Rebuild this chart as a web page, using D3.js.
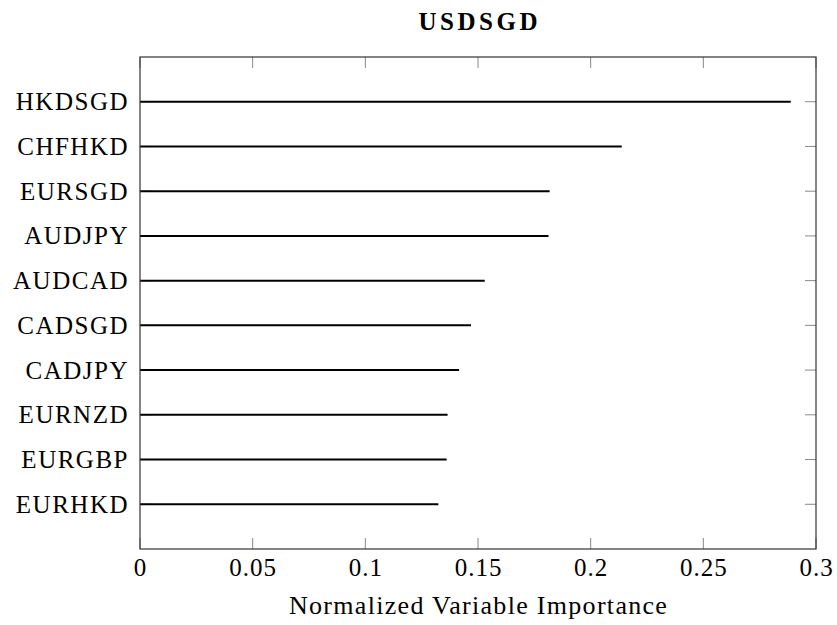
<!DOCTYPE html>
<html>
<head>
<meta charset="utf-8">
<script src="https://cdn.jsdelivr.net/npm/d3@7"></script>
<style>
  html, body { margin: 0; padding: 0; background: #fff; }
  svg text { font-family: "Liberation Serif", "DejaVu Serif", serif; fill: #000; }
</style>
</head>
<body>
<svg id="chart" width="837" height="625"></svg>
<script>
// Variable importance for the USDSGD model, top ten predictors
const categories = ["HKDSGD", "CHFHKD", "EURSGD", "AUDJPY", "AUDCAD",
                    "CADSGD", "CADJPY", "EURNZD", "EURGBP", "EURHKD"];
const importance = [0.2888, 0.2138, 0.1818, 0.1813, 0.1530,
                    0.1469, 0.1416, 0.1365, 0.1361, 0.1324];
const xTicks = [0, 0.05, 0.1, 0.15, 0.2, 0.25, 0.3];
const xTickLabels = ["0", "0.05", "0.1", "0.15", "0.2", "0.25", "0.3"];
const title = "USDSGD";
const xLabel = "Normalized Variable Importance";

const svg = d3.select("#chart");
const frame = { left: 140, right: 816, top: 57, bottom: 549 };

const x = d3.scaleLinear().domain([0, 0.3]).range([frame.left, frame.right]);
const y = d3.scalePoint().domain(categories).range([frame.top, frame.bottom]).padding(1);

const tickLen = 11;
const tickColor = "#888";

// Tick marks pointing inward on all four sides
const g = svg.append("g");
g.selectAll("line.xb").data(xTicks).join("line")
  .attr("x1", d => x(d)).attr("x2", d => x(d))
  .attr("y1", frame.bottom).attr("y2", frame.bottom - tickLen)
  .attr("stroke", tickColor).attr("stroke-width", 1);
g.selectAll("line.xt").data(xTicks).join("line")
  .attr("x1", d => x(d)).attr("x2", d => x(d))
  .attr("y1", frame.top).attr("y2", frame.top + tickLen)
  .attr("stroke", tickColor).attr("stroke-width", 1);
g.selectAll("line.yl").data(categories).join("line")
  .attr("x1", frame.left).attr("x2", frame.left + tickLen)
  .attr("y1", d => y(d)).attr("y2", d => y(d))
  .attr("stroke", tickColor).attr("stroke-width", 1);
g.selectAll("line.yr").data(categories).join("line")
  .attr("x1", frame.right).attr("x2", frame.right - tickLen)
  .attr("y1", d => y(d)).attr("y2", d => y(d))
  .attr("stroke", tickColor).attr("stroke-width", 1);

// Importance bars drawn as horizontal lines from zero
svg.append("g").selectAll("line").data(categories).join("line")
  .attr("x1", x(0))
  .attr("x2", (d, i) => x(importance[i]))
  .attr("y1", d => y(d)).attr("y2", d => y(d))
  .attr("stroke", "#000").attr("stroke-width", 2);

// Plot frame
svg.append("rect")
  .attr("x", frame.left).attr("y", frame.top)
  .attr("width", frame.right - frame.left).attr("height", frame.bottom - frame.top)
  .attr("fill", "none").attr("stroke", "#333").attr("stroke-width", 1.2);

// Category labels
svg.append("g").selectAll("text").data(categories).join("text")
  .attr("x", frame.left - 11)
  .attr("y", d => y(d))
  .attr("dy", "0.34em")
  .attr("text-anchor", "end")
  .attr("font-size", 25)
  .attr("letter-spacing", 1.5)
  .text(d => d);

// X tick labels
svg.append("g").selectAll("text").data(xTicks).join("text")
  .attr("x", d => x(d) + 0.5)
  .attr("y", 576)
  .attr("text-anchor", "middle")
  .attr("font-size", 25)
  .attr("letter-spacing", 1)
  .text((d, i) => xTickLabels[i]);

// Axis title
svg.append("text")
  .attr("x", (frame.left + frame.right) / 2 + 0.6)
  .attr("y", 614)
  .attr("text-anchor", "middle")
  .attr("font-size", 26)
  .attr("letter-spacing", 1.3)
  .text(xLabel);

// Chart title
svg.append("text")
  .attr("x", (frame.left + frame.right) / 2 + 1.75)
  .attr("y", 30)
  .attr("text-anchor", "middle")
  .attr("font-size", 25)
  .attr("font-weight", "bold")
  .attr("letter-spacing", 3.5)
  .text(title);
</script>
</body>
</html>
